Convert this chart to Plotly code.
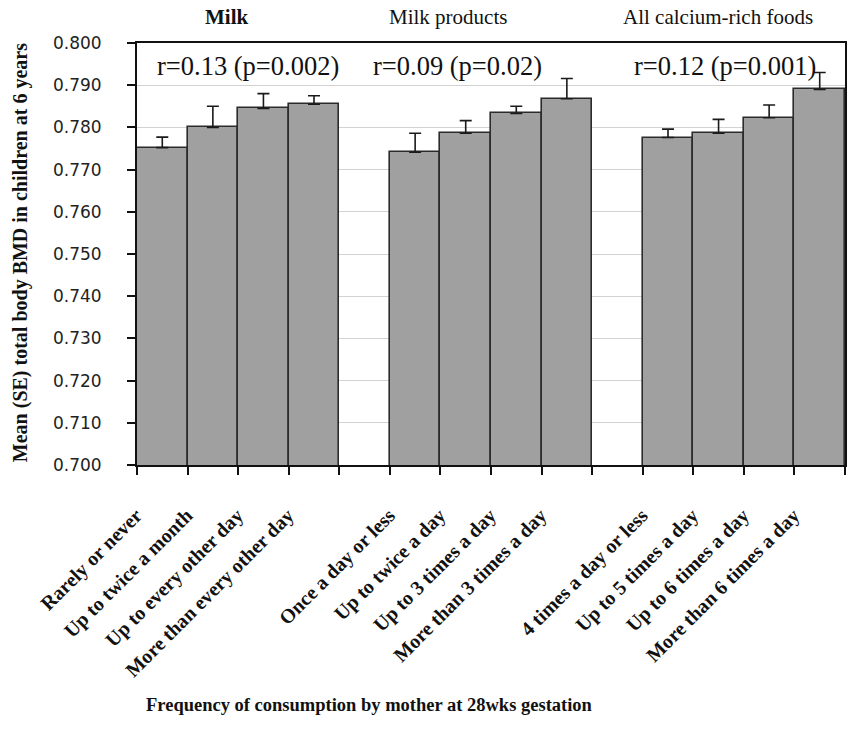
import plotly.graph_objects as go

# Consumption-frequency categories for each food group
milk_cats = ["Rarely or never", "Up to twice a month", "Up to every other day",
             "More than every other day"]
products_cats = ["Once a day or less", "Up to twice a day", "Up to 3 times a day",
                 "More than 3 times a day"]
calcium_cats = ["4 times a day or less", "Up to 5 times a day", "Up to 6 times a day",
                "More than 6 times a day"]

# Mean total body BMD (g/cm2) in children at 6 years and its standard error
milk_bmd = [0.7752, 0.7800, 0.7845, 0.7855]
milk_se = [0.0025, 0.0050, 0.0035, 0.0020]
products_bmd = [0.7741, 0.7786, 0.7833, 0.7868]
products_se = [0.0045, 0.0030, 0.0017, 0.0048]
calcium_bmd = [0.7776, 0.7786, 0.7823, 0.7890]
calcium_se = [0.0020, 0.0033, 0.0030, 0.0040]

group_titles = ["Milk", "Milk products", "All calcium-rich foods"]
correlations = ["r=0.13 (p=0.002)", "r=0.09 (p=0.02)", "r=0.12 (p=0.001)"]

y_title = "Mean (SE) total body BMD in children at 6 years"
x_title = "Frequency of consumption by mother at 28wks gestation"

# blank spacer slots separate the three food groups on the category axis
spacer_a, spacer_b = " ", "  "
all_cats = milk_cats + [spacer_a] + products_cats + [spacer_b] + calcium_cats

SERIF = "Liberation Serif, Times New Roman, serif"
BAR_FILL = "#a0a0a0"
EDGE = "#2b2b2b"

fig = go.Figure()
for cats, vals, errs in [(milk_cats, milk_bmd, milk_se),
                         (products_cats, products_bmd, products_se),
                         (calcium_cats, calcium_bmd, calcium_se)]:
    fig.add_trace(go.Bar(
        x=cats, y=vals,
        marker=dict(color=BAR_FILL, line=dict(color=EDGE, width=1.6)),
        error_y=dict(type="data", symmetric=False, array=errs,
                     arrayminus=[0] * len(errs), color="#1a1a1a",
                     thickness=1.6, width=6),
        showlegend=False,
    ))

annotations = []
# group headings above the frame
for title, xp, bold in zip(group_titles, [0.127, 0.439, 0.820], [True, False, False]):
    annotations.append(dict(
        text=title, xref="paper", yref="paper", x=xp, y=1.062,
        xanchor="center", yanchor="middle", showarrow=False,
        font=dict(family=SERIF, size=21, color="#111",
                  weight="bold" if bold else "normal")))
# correlation statistics inside the frame
for txt, xp in zip(correlations, [0.157, 0.452, 0.831]):
    annotations.append(dict(
        text=txt, xref="paper", yref="paper", x=xp, y=0.946,
        xanchor="center", yanchor="middle", showarrow=False,
        font=dict(family=SERIF, size=26.5, color="#111")))
# axis titles
annotations.append(dict(
    text=y_title, xref="paper", yref="paper", x=0, y=0.502, xshift=-117,
    textangle=-90, xanchor="center", yanchor="middle", showarrow=False,
    font=dict(family=SERIF, size=20, color="#111", weight="bold")))
annotations.append(dict(
    text=x_title, xref="paper", yref="paper", x=0.328, y=-0.569,
    xanchor="center", yanchor="middle", showarrow=False,
    font=dict(family=SERIF, size=18.5, color="#111", weight="bold")))

fig.update_layout(
    width=849, height=733,
    margin=dict(l=137, r=2, t=43, b=268),
    paper_bgcolor="white", plot_bgcolor="white",
    barmode="overlay", bargap=0,
    annotations=annotations,
    xaxis=dict(
        type="category", categoryorder="array", categoryarray=all_cats,
        tickson="boundaries", ticks="outside", ticklen=8, tickwidth=1.5,
        tickcolor="#111", tickangle=-45,
        ticklabelshift=-26, ticklabelstandoff=29,
        tickfont=dict(family=SERIF, size=20, color="#111", weight="bold"),
        showline=True, linecolor="#111", linewidth=1.8, mirror=True,
        showgrid=False, range=[-0.5, len(all_cats) - 0.5],
    ),
    yaxis=dict(
        range=[0.700, 0.800], dtick=0.01, tickformat=".3f",
        ticks="outside", ticklen=8, tickwidth=1.5, tickcolor="#111",
        ticklabelstandoff=22,
        tickfont=dict(family="DejaVu Sans, sans-serif", size=17, color="#222"),
        showline=True, linecolor="#111", linewidth=1.8, mirror=True,
        showgrid=True, gridcolor="#d2d2d2", gridwidth=1,
        zeroline=False,
    ),
)

fig.write_html("out.html")
